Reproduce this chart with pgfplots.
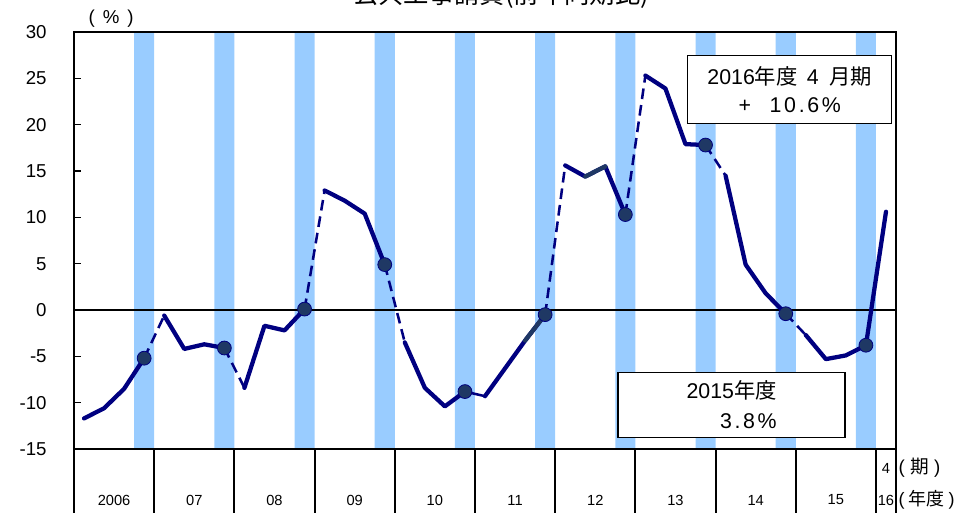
\documentclass[border=0pt]{standalone}
\usepackage{fontspec}
\setmainfont{Liberation Sans}
\newfontfamily\cjk{Noto Sans CJK JP}
\usepackage{pgfplots}
\usepackage{pgfplotstable}
\pgfplotsset{compat=1.18}
\definecolor{barblue}{HTML}{99CCFF}
\definecolor{navyline}{HTML}{000080}
\definecolor{dotfill}{HTML}{1F3864}

\pgfplotstableread{
i v
0 -11.7
1 -10.6
2 -8.5
3 -5.2
4 -0.6
5 -4.2
6 -3.7
7 -4.1
8 -8.4
9 -1.7
10 -2.2
11 0.1
12 12.9
13 11.8
14 10.4
15 4.9
16 -3.5
17 -8.4
18 -10.4
19 -8.8
20 -9.3
21 -6.3
22 -3.3
23 -0.5
24 15.6
25 14.4
26 15.5
27 10.3
28 25.3
29 23.9
30 17.9
31 17.8
32 14.5
33 4.9
34 1.8
35 -0.4
36 -2.7
37 -5.3
38 -4.9
39 -3.8
40 10.6
}\data

\begin{document}
\begin{tikzpicture}
\begin{axis}[
 at={(55.5pt,47.25pt)}, anchor=south west,
 scale only axis, width=616.5pt, height=312.75pt,
 xmin=-0.5, xmax=40.5, ymin=-15, ymax=30,
 xtick=\empty,
 ytick={-15,-10,-5,0,5,10,15,20,25,30},
 yticklabels={-15,-10,-5,0,5,10,15,20,25,30},
 ytick pos=left, tick align=inside, major tick length=5.25pt,
 tick style={black, line width=1.2pt},
 axis line style={black, line width=1.5pt},
 yticklabel style={font=\fontsize{14}{16}\selectfont, xshift=-17pt},
 axis on top,
 clip=false,
 solidseg/.style={navyline, line width=3.2pt, line join=round, line cap=round},
 dashseg/.style={navyline, line width=1.9pt, dash pattern=on 8pt off 4.5pt},
]
% light blue bars for each fourth quarter
\addplot[ybar, bar width=1, bar shift=0pt, fill=barblue, draw=none]
  coordinates {(3,30)(7,30)(11,30)(15,30)(19,30)(23,30)(27,30)(31,30)(35,30)(39,30)};
\addplot[ybar, bar width=1, bar shift=0pt, fill=barblue, draw=none]
  coordinates {(3,-15)(7,-15)(11,-15)(15,-15)(19,-15)(23,-15)(27,-15)(31,-15)(35,-15)(39,-15)};
% zero line
\addplot[black, line width=1.8pt] coordinates {(-0.5,0)(40.5,0)};
% solid within fiscal years
\addplot[solidseg, restrict x to domain=0:3] table[x=i,y=v] {\data};
\addplot[solidseg, restrict x to domain=4:7] table[x=i,y=v] {\data};
\addplot[solidseg, restrict x to domain=8:11] table[x=i,y=v] {\data};
\addplot[solidseg, restrict x to domain=12:15] table[x=i,y=v] {\data};
\addplot[solidseg, restrict x to domain=16:19] table[x=i,y=v] {\data};
\addplot[solidseg, restrict x to domain=20:23] table[x=i,y=v] {\data};
\addplot[solidseg, restrict x to domain=24:27] table[x=i,y=v] {\data};
\addplot[solidseg, restrict x to domain=28:31] table[x=i,y=v] {\data};
\addplot[solidseg, restrict x to domain=32:35] table[x=i,y=v] {\data};
\addplot[solidseg, restrict x to domain=36:39] table[x=i,y=v] {\data};
\addplot[solidseg, dotfill, restrict x to domain=22:23] table[x=i,y=v] {\data};
\addplot[solidseg, dotfill, restrict x to domain=25:26] table[x=i,y=v] {\data};
% dashed between fiscal years
\addplot[dashseg, restrict x to domain=3:4] table[x=i,y=v] {\data};
\addplot[dashseg, restrict x to domain=7:8] table[x=i,y=v] {\data};
\addplot[dashseg, restrict x to domain=11:12] table[x=i,y=v] {\data};
\addplot[dashseg, restrict x to domain=15:16] table[x=i,y=v] {\data};
\addplot[navyline, line width=1.9pt, restrict x to domain=19:20] table[x=i,y=v] {\data};
\addplot[dashseg, restrict x to domain=23:24] table[x=i,y=v] {\data};
\addplot[dashseg, restrict x to domain=27:28] table[x=i,y=v] {\data};
\addplot[dashseg, restrict x to domain=31:32] table[x=i,y=v] {\data};
\addplot[dashseg, restrict x to domain=35:36] table[x=i,y=v] {\data};
\addplot[solidseg, restrict x to domain=39:40] table[x=i,y=v] {\data};
% fourth-quarter markers
\addplot[only marks, mark=*, mark size=5.2pt, mark options={fill=dotfill, draw=navyline, line width=0.6pt}]
  coordinates {(3,-5.2)(7,-4.1)(11,0.1)(15,4.9)(19,-8.8)(23,-0.5)(27,10.3)(31,17.8)(35,-0.4)(39,-3.8)};

% category frame below the axis
\pgfplotsinvokeforeach{-0.5,3.5,7.5,11.5,15.5,19.5,23.5,27.5,31.5,35.5,39.5,40.5}{
  \draw[black, line width=1.6pt] (axis cs:#1,-15) -- (axis cs:#1,-23);
}
\begin{scope}[every node/.style={font=\fontsize{11}{13}\selectfont, inner sep=0pt}]
\node at (axis cs:1.5,-20.5) {2006};
\node at (axis cs:5.5,-20.5) {07};
\node at (axis cs:9.5,-20.5) {08};
\node at (axis cs:13.5,-20.5) {09};
\node at (axis cs:17.5,-20.5) {10};
\node at (axis cs:21.5,-20.5) {11};
\node at (axis cs:25.5,-20.5) {12};
\node at (axis cs:29.5,-20.5) {13};
\node at (axis cs:33.5,-20.5) {14};
\node at (axis cs:37.5,-20.5) {15};
\node at (axis cs:40,-20.5) {16};
\node at (axis cs:40,-17.05) {4};
\end{scope}
\node[anchor=west, inner sep=0pt, font=\fontsize{14}{16}\selectfont] at (axis cs:40.62,-17.05) {(\hspace{4pt}{\cjk 期}\hspace{4pt})};
\node[anchor=west, inner sep=0pt, font=\fontsize{13.5}{16}\selectfont] at (axis cs:40.62,-20.5) {(\hspace{3pt}{\cjk 年度}\hspace{3pt})};
% unit label
\node[inner sep=0pt, font=\fontsize{14}{16}\selectfont] at (axis cs:1.35,31.48) {(\hspace{6pt}\%\hspace{6pt})};
% title (cut off at the top as in the reference)
\node[anchor=base, inner sep=0pt, font=\cjk\fontsize{19}{21}\selectfont] at (axis cs:20.8,33.06) {公共工事請負(前年同期比)};
% annotation boxes
\node[draw=black, line width=1.1pt, fill=white, minimum width=153pt, minimum height=51pt,
      align=center, inner sep=0pt, font=\fontsize{16}{21}\selectfont] at (axis cs:35.2,23.8)
  {2016{\cjk 年度}\hspace{7pt}4\hspace{8pt}{\cjk 月期}\\+\hspace{14pt}1\kern2pt 0\kern2pt.\kern2pt 6\kern2pt\%};
\node[draw=black, line width=1.1pt, fill=white, minimum width=170.25pt, minimum height=48.75pt,
      align=right, inner sep=0pt, font=\fontsize{16}{22.5}\selectfont] at (axis cs:32.3,-10.23)
  {2015{\cjk 年度}\\3\kern2pt.\kern2pt 8\kern2pt\%};
\end{axis}
\pgfresetboundingbox
\useasboundingbox (0pt,0pt) rectangle (726.75pt,384pt);
\end{tikzpicture}
\end{document}
